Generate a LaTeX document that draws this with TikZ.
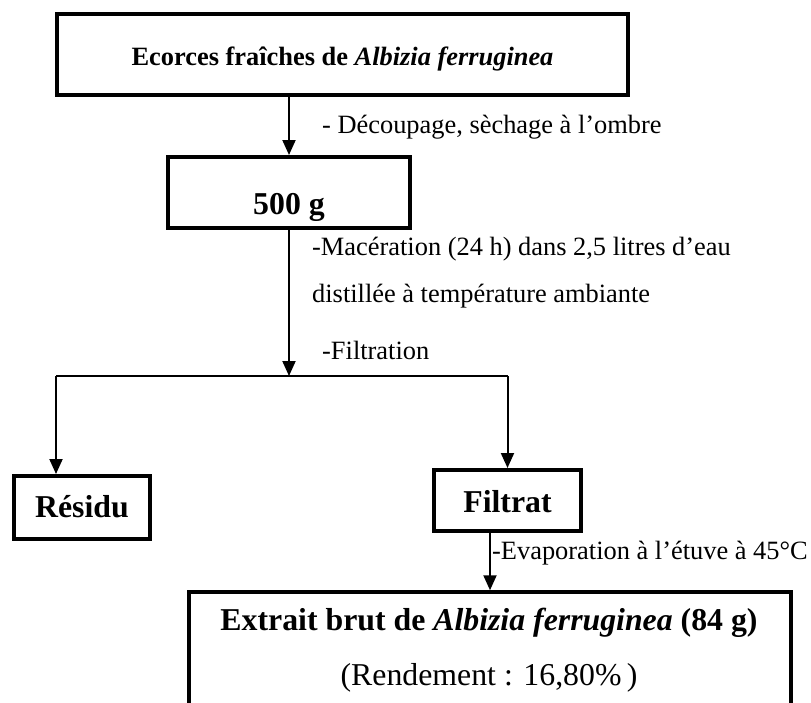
\documentclass[tikz,border=0pt]{standalone}
\usepackage{fontspec}
\setmainfont{Liberation Serif}
\usetikzlibrary{arrows.meta}
\begin{document}
\begin{tikzpicture}[x=1pt,y=-1pt,
  boxnode/.style={draw=black,line width=4pt,inner sep=0pt,anchor=center},
  lbl/.style={inner sep=0pt,anchor=base west,font=\fontsize{26.4}{30}\selectfont},
  bigtxt/.style={inner sep=0pt,anchor=base,font=\fontsize{31.8}{36}\selectfont},
  arr/.style={line width=2pt,-{Triangle[length=15pt,width=13pt]}},
  plain/.style={line width=2pt}]
\useasboundingbox (0,0) rectangle (811,702);

% boxes
\node[boxnode,minimum width=571pt,minimum height=81pt,text height=21pt,text depth=0pt,
  font=\fontsize{26.4}{30}\selectfont] (top) at (342.5,54.5)
  {\textbf{Ecorces fraîches de \textit{Albizia ferruginea}}};
\node[boxnode,minimum width=242pt,minimum height=71pt,text height=43pt,text depth=0pt,
  font=\fontsize{31.8}{36}\selectfont] (b500) at (289,192.5) {\textbf{500 g}};
\node[boxnode,minimum width=136pt,minimum height=63pt,text height=19pt,text depth=0pt,
  font=\fontsize{31.8}{36}\selectfont] (res) at (82,507.5) {\textbf{Résidu}};
\node[boxnode,minimum width=147pt,minimum height=61pt,text height=23pt,text depth=0pt,
  font=\fontsize{31.8}{36}\selectfont] (filt) at (507.5,500.5) {\textbf{Filtrat}};
\node[boxnode,line width=3.5pt,minimum width=602pt,minimum height=128pt] (ext) at (490,656) {};
\node[bigtxt] (ext1) at (489,630) {\textbf{Extrait brut de \textit{Albizia ferruginea} (84 g)}};
\node[bigtxt] (ext2) at (489,685) {(Rendement : 16,80\%\,)};

% labels
\node[lbl] (l1) at (322,133) {- Découpage, sèchage à l’ombre};
\node[lbl] (l2) at (312,255) {-Macération (24 h) dans 2,5 litres d’eau};
\node[lbl] (l3) at (312,302) {distillée à température ambiante};
\node[lbl] (l4) at (322,359) {-Filtration};
\node[lbl] (l5) at (492,559) {-Evaporation à l’étuve à 45°C};

% connectors
\coordinate (bl) at (56,376);
\draw[arr] (b500.north |- top.south) -- (b500.north);
\draw[arr] (b500.south) -- (b500.south |- bl);
\draw[plain] (bl) -- (bl -| filt.north);
\draw[arr] (bl) -- (bl |- res.north);
\draw[arr] (bl -| filt.north) -- (filt.north);
\draw[arr] (filt.south -| ext.north) -- (ext.north);
\end{tikzpicture}
\end{document}
